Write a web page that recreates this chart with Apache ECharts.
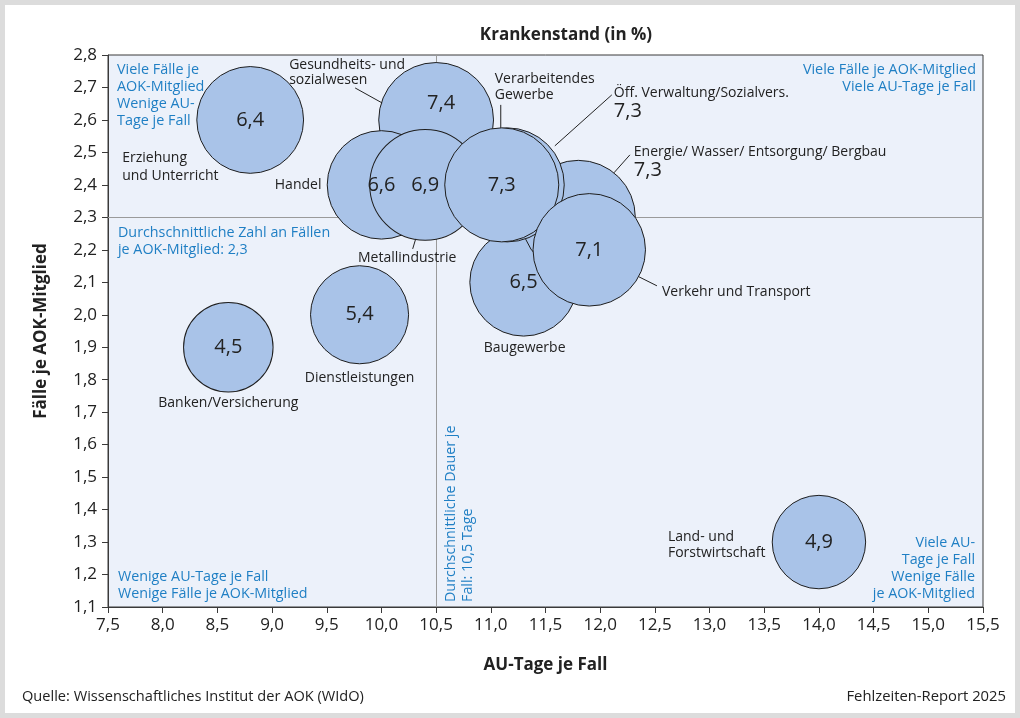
<!DOCTYPE html>
<html>
<head>
<meta charset="utf-8">
<script src="https://cdn.jsdelivr.net/npm/echarts@6/dist/echarts.min.js"></script>
<style>
    html, body { margin: 0; padding: 0; background: #fff; }
    #main { width: 1020px; height: 718px; }
</style>
</head>
<body>
<div id="main"></div>
<script>
    // Reihenfolge = Zeichenreihenfolge (spätere Kreise liegen oben)
    var branchen = ['Erziehung und Unterricht', 'Gesundheits- und sozialwesen', 'Handel', 'Metallindustrie',
        'Baugewerbe', 'Energie/ Wasser/ Entsorgung/ Bergbau', 'Öff. Verwaltung/Sozialvers.',
        'Verarbeitendes Gewerbe', 'Verkehr und Transport', 'Dienstleistungen', 'Banken/Versicherung',
        'Land- und Forstwirtschaft'];
    var labelTexte = ['Erziehung\nund Unterricht', 'Gesundheits- und\nsozialwesen', 'Handel', 'Metallindustrie',
        'Baugewerbe', 'Energie/ Wasser/ Entsorgung/ Bergbau', 'Öff. Verwaltung/Sozialvers.',
        'Verarbeitendes\nGewerbe', 'Verkehr und Transport', 'Dienstleistungen', 'Banken/Versicherung',
        'Land- und\nForstwirtschaft'];
    var auTageJeFall     = [8.8, 10.5, 10.0, 10.4, 11.3, 11.8, 11.15, 11.1, 11.9, 9.8, 8.6, 14.0];
    var faelleJeMitglied = [2.6, 2.6, 2.4, 2.4, 2.1, 2.3, 2.4, 2.4, 2.2, 2.0, 1.9, 1.3];
    var krankenstand     = [6.4, 7.4, 6.6, 6.9, 6.5, 7.3, 7.3, 7.3, 7.1, 5.4, 4.5, 4.9];

    var xAchse = {min: 7.5, max: 15.5, step: 0.5};
    var yAchse = {min: 1.1, max: 2.8, step: 0.1};
    var mittelDauer = 10.5;   // Durchschnittliche Dauer je Fall
    var mittelFaelle = 2.3;   // Durchschnittliche Zahl an Fällen

    var FONT = '"Open Sans", "Noto Sans", sans-serif';
    var BLAU = '#1f7fc4';

    function komma(v) { return v.toFixed(1).replace('.', ','); }

    // Beschriftungen: Versatz in Pixeln zum Kreismittelpunkt
    var layout = [
        {dx: -128, dy: 29, align: 'left', va: 'top', lh: 18},
        {dx: -147, dy: -62, align: 'left', va: 'top', lh: 15, line: [-81, -32, -54, -17], off: [5, -17]},
        {dx: -60, dy: 0, align: 'right', va: 'middle'},
        {dx: -18, dy: 73, align: 'center', va: 'middle', line: [-9.5, 54, -12.5, 64]},
        {dx: 1, dy: 66, align: 'center', va: 'middle'},
        {dx: 55.5, dy: -74, align: 'left', va: 'top', line: [51.6, -62.5, 35.6, -44.5], aussen: true},
        {dx: 106.6, dy: -100.5, align: 'left', va: 'top', line: [104.6, -90, 47.6, -39], aussen: true},
        {dx: -7, dy: -114, align: 'left', va: 'top', lh: 16, line: [-1, -80, -1, -57]},
        {dx: 72.7, dy: 42, align: 'left', va: 'middle', line: [49.7, 27, 67.7, 36]},
        {dx: 0, dy: 63, align: 'center', va: 'middle'},
        {dx: 0, dy: 55.5, align: 'center', va: 'middle'},
        {dx: -151, dy: -13, align: 'left', va: 'top', lh: 16}
    ];

    var daten = branchen.map(function (n, i) {
        var item = {name: n, value: [auTageJeFall[i], faelleJeMitglied[i], krankenstand[i]]};
        if (layout[i].aussen) item.label = {show: false};
        if (layout[i].off) item.label = {offset: layout[i].off};
        return item;
    });

    var chart = echarts.init(document.getElementById('main'));

    var achsenLabel = {fontFamily: FONT, fontSize: 17, color: '#222', formatter: komma};

    var option = {
        animation: false,
        textStyle: {fontFamily: FONT},
        grid: {
            left: 108, right: 37, top: 55, bottom: 111, show: true,
            backgroundColor: '#ecf1fa', borderColor: '#3a3a3a', borderWidth: 1
        },
        xAxis: {
            type: 'value', min: xAchse.min, max: xAchse.max, interval: xAchse.step,
            name: 'AU-Tage je Fall', nameLocation: 'middle', nameGap: 50,
            nameTextStyle: {fontFamily: FONT, fontSize: 17, fontWeight: 'bold', color: '#222'},
            axisLine: {lineStyle: {color: '#3a3a3a'}},
            axisTick: {length: 6, lineStyle: {color: '#3a3a3a'}},
            axisLabel: Object.assign({margin: 10}, achsenLabel),
            splitLine: {show: false}
        },
        yAxis: {
            type: 'value', min: yAchse.min, max: yAchse.max, interval: yAchse.step,
            name: 'Fälle je AOK-Mitglied', nameLocation: 'middle', nameGap: 58,
            nameTextStyle: {fontFamily: FONT, fontSize: 17, fontWeight: 'bold', color: '#222'},
            axisLine: {lineStyle: {color: '#3a3a3a'}},
            axisTick: {length: 6, lineStyle: {color: '#3a3a3a'}},
            axisLabel: Object.assign({margin: 11}, achsenLabel),
            splitLine: {show: false}
        },
        series: [{
            name: 'Krankenstand',
            type: 'scatter',
            z: 2,
            data: daten,
            symbolSize: function (v) { return 42.2 * Math.sqrt(v[2]); },
            itemStyle: {color: '#a9c3e8', borderColor: '#1e1e1e', borderWidth: 1, opacity: 1},
            label: {
                show: true, position: 'inside', fontFamily: FONT, fontSize: 20, color: '#222',
                formatter: function (p) { return komma(p.value[2]); }
            },
            emphasis: {disabled: true},
            markLine: {
                silent: true, symbol: 'none', z: 1,
                label: {show: false},
                lineStyle: {color: '#9a9a9a', width: 1, type: 'solid'},
                data: [{xAxis: mittelDauer}, {yAxis: mittelFaelle}]
            }
        }]
    };
    chart.setOption(option);

    function text(x, y, str, opt) {
        opt = opt || {};
        return {
            type: 'text', x: x, y: y, z: 100, silent: true, rotation: opt.rot || 0,
            style: {
                text: str, fill: opt.color || '#222',
                font: (opt.bold ? 'bold ' : '') + (opt.size || 14) + 'px ' + FONT,
                align: opt.align || 'left', textAlign: opt.align || 'left',
                verticalAlign: opt.va || 'top', textVerticalAlign: opt.va || 'top',
                lineHeight: opt.lh || 17, rich: opt.rich
            }
        };
    }

    var graphics = [
        // äußerer Rahmen
        {type: 'rect', z: 0, silent: true, shape: {x: 2.5, y: 2.5, width: 1015, height: 713},
            style: {fill: 'none', stroke: '#dcdcdc', lineWidth: 5}},
        text(566, 35, 'Krankenstand (in %)', {bold: true, size: 17, align: 'center', va: 'middle'}),
        text(22, 697, 'Quelle: Wissenschaftliches Institut der AOK (WIdO)', {size: 14.6, va: 'middle'}),
        text(1006, 697, 'Fehlzeiten-Report 2025', {size: 14.8, align: 'right', va: 'middle'}),
        text(117, 61, 'Viele Fälle je\nAOK-Mitglied\nWenige AU-\nTage je Fall', {color: BLAU, size: 14.4, lh: 17}),
        text(976, 62, 'Viele Fälle je AOK-Mitglied\nViele AU-Tage je Fall', {color: BLAU, size: 14.4, align: 'right', lh: 16.5}),
        text(118, 224, 'Durchschnittliche Zahl an Fällen\nje AOK-Mitglied: 2,3', {color: BLAU, size: 14.3, lh: 17}),
        text(118, 569, 'Wenige AU-Tage je Fall\nWenige Fälle je AOK-Mitglied', {color: BLAU, size: 14.3, lh: 16.5}),
        text(975, 535, 'Viele AU-\nTage je Fall\nWenige Fälle\nje AOK-Mitglied', {color: BLAU, size: 14.3, align: 'right', lh: 16.7}),
        text(443, 602, 'Durchschnittliche Dauer je\nFall: 10,5 Tage', {color: BLAU, size: 14.3, lh: 16.5, rot: Math.PI / 2})
    ];

    branchen.forEach(function (n, i) {
        var c = chart.convertToPixel({gridIndex: 0}, [auTageJeFall[i], faelleJeMitglied[i]]);
        var L = layout[i];
        if (L.aussen) {
            graphics.push(text(c[0] + L.dx, c[1] + L.dy, '{n|' + labelTexte[i] + '}\n{v|' + komma(krankenstand[i]) + '}', {
                rich: {
                    n: {fontFamily: FONT, fontSize: 14, color: '#222', lineHeight: 17},
                    v: {fontFamily: FONT, fontSize: 20, color: '#222', lineHeight: 20}
                }
            }));
        } else {
            graphics.push(text(c[0] + L.dx, c[1] + L.dy, labelTexte[i], {align: L.align, va: L.va, lh: L.lh || 17}));
        }
        if (L.line) {
            graphics.push({
                type: 'line', z: 100, silent: true,
                shape: {x1: c[0] + L.line[0], y1: c[1] + L.line[1], x2: c[0] + L.line[2], y2: c[1] + L.line[3]},
                style: {stroke: '#222', lineWidth: 1}
            });
        }
    });

    chart.setOption({graphic: graphics});
</script>
</body>
</html>
